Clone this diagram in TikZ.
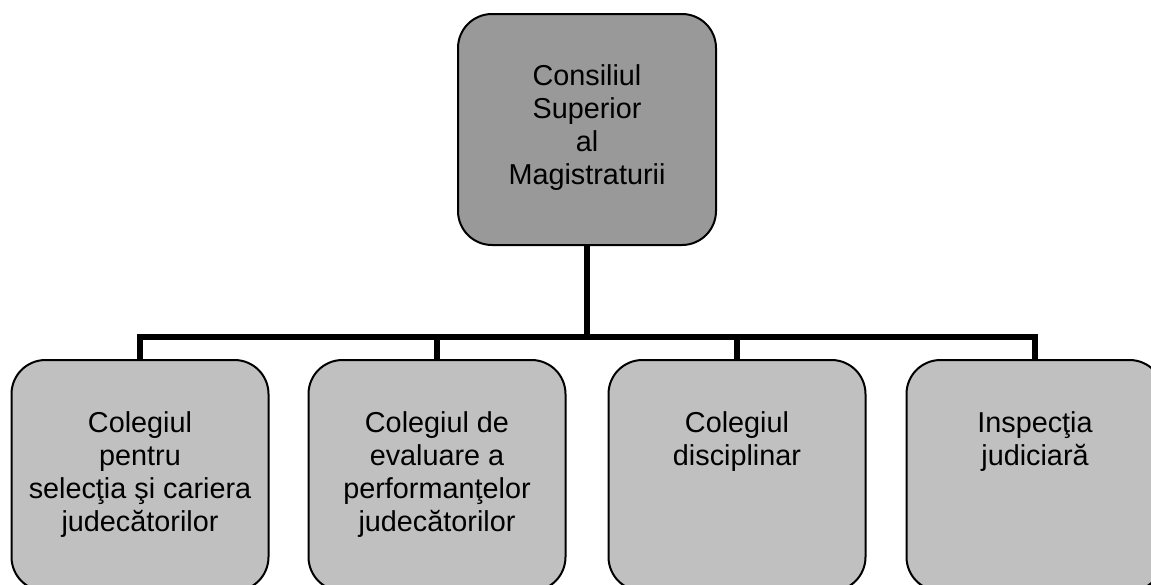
\documentclass[tikz,border=0pt]{standalone}
\usepackage{fontspec}
\setmainfont{Liberation Sans}
\definecolor{topgray}{RGB}{153,153,153}
\definecolor{subgray}{RGB}{192,192,192}
\newcommand{\fl}{\rule{0pt}{22pt}}
\begin{document}
\begin{tikzpicture}[x=1pt,y=-1pt,
  box/.style={draw=black, line width=2pt, rounded corners=34pt, minimum width=257pt, minimum height=231pt, inner sep=0pt},
  topbox/.style={box, fill=topgray, minimum width=258pt},
  subbox/.style={box, fill=subgray},
  lbl/.style={anchor=north, align=center, inner sep=0pt, font=\fontsize{28.8}{33}\selectfont},
  conn/.style={line width=6pt, line join=miter}]
\clip (0,0) rectangle (1151,584);
\useasboundingbox (0,0) rectangle (1151,584);
% boxes
\node[topbox] (top) at (587,129.5) {};
\node[subbox] (b1) at (140,475.5) {};
\node[subbox] (b2) at (437,475.5) {};
\node[subbox] (b3) at (737,475.5) {};
\node[subbox] (b4) at (1035,475.5) {};
% connectors
\coordinate (bar) at (587,337);
\draw[conn] (top.south) -- (bar);
\draw[conn] (b1.north) |- (bar) -| (b4.north);
\draw[conn] (b2.north) -- (b2.north |- bar);
\draw[conn] (b3.north) -- (b3.north |- bar);
% labels
\node[lbl] (l0) at (587,63) {\fl Consiliul\\Superior\\al\\Magistraturii};
\node[lbl] (l1) at (140,410) {\fl Colegiul\\pentru\\selecţia şi cariera\\judecătorilor};
\node[lbl] (l2) at (437,410) {\fl Colegiul de\\evaluare a\\performanţelor\\judecătorilor};
\node[lbl] (l3) at (737,410) {\fl Colegiul\\disciplinar};
\node[lbl] (l4) at (1035,410) {\fl Inspecţia\\judiciară};
\end{tikzpicture}
\end{document}
